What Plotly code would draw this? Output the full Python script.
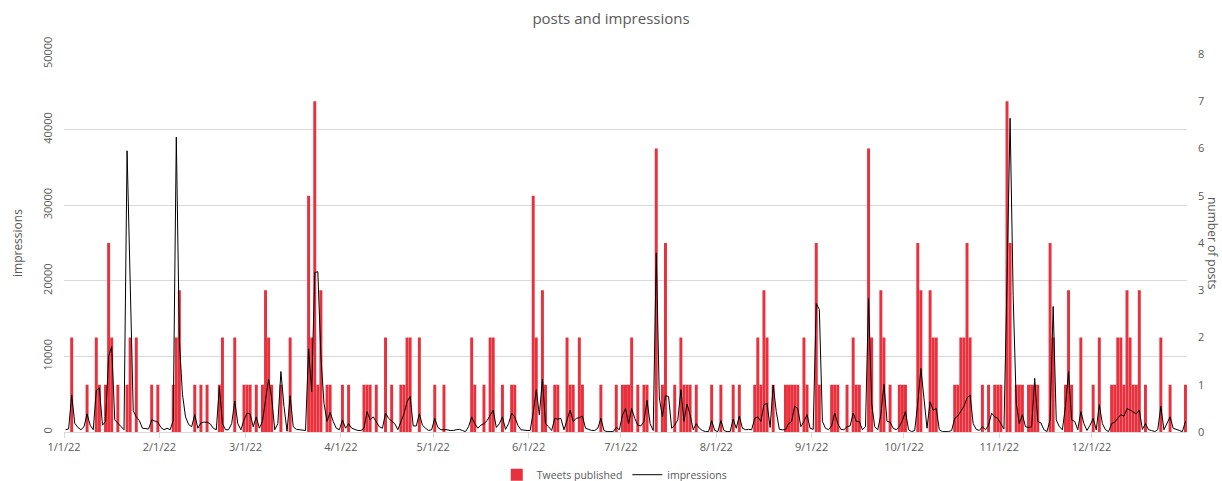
import pandas as pd
import plotly.graph_objects as go

# Daily tweets published in 2022, one list per month
posts_jan = [0,0,2,0,0,0,0,1,0,0, 2,1,0,1,4,2,0,1,0,0, 1,2,0,2,0,0,0,0,1,0, 1]
posts_feb = [0,0,0,0,1,2,3,0,0,0, 0,1,0,1,0,1,0,0,0,1, 2,0,0,0,2,0,0,1]
posts_mar = [1,1,0,1,0,1,3,2,1,0, 0,1,0,0,2,0,0,0,0,0, 5,2,7,1,3,0,1,1,0,0, 0]
posts_apr = [1,0,1,0,0,0,0,1,1,1, 0,1,0,0,2,0,1,0,0,1, 1,2,2,0,0,2,0,0,0,0]
posts_may = [1,0,0,1,0,0,0,0,0,0, 0,0,2,1,0,0,1,0,2,2, 0,0,1,0,0,1,1,0,0,0, 0]
posts_jun = [0,5,2,0,3,1,0,0,1,1, 0,0,2,1,1,0,2,1,0,0, 0,0,0,1,0,0,0,0,1,0]
posts_jul = [1,1,1,2,0,1,0,1,1,0, 0,6,0,1,4,0,0,1,0,2, 1,1,1,0,1,0,0,0,0,1, 0]
posts_aug = [0,1,0,0,0,1,0,1,0,0, 0,0,1,2,1,3,2,0,1,0, 0,0,1,1,1,1,1,0,2,1, 0]
posts_sep = [0,4,1,0,0,0,1,1,1,0, 0,1,0,2,1,1,0,0,6,2, 0,0,3,2,0,1,0,0,1,1]
posts_oct = [1,0,0,0,4,3,0,0,3,2, 2,0,0,0,0,0,1,1,2,2, 4,2,0,0,0,1,0,1,0,1, 1]
posts_nov = [1,0,7,4,0,1,1,1,0,1, 1,1,1,0,0,0,4,2,0,0, 0,1,3,1,0,0,2,0,0,0]
posts_dec = [1,0,2,0,0,0,1,1,2,2, 1,3,2,1,1,3,0,1,0,0, 0,0,2,0,0,1,0,0,0,0, 1]

# Daily impressions in 2022, one list per month
impr_jan = [300,400,4900,1150,600,300,700,2400,900,300, 5500,5800,900,1400,10000,11300,1600,1200,700,300,
            37200,18000,2800,2000,1500,500,400,400,1600,1500, 1300]
impr_feb = [600,300,500,300,1500,39000,12000,5000,2000,1000, 700,2300,500,1200,1300,1300,1100,500,300,6000,
            1100,300,300,1100,4100,1100,300,1600]
impr_mar = [2500,2400,700,2000,500,1400,4200,7000,4500,300, 1100,8000,3400,100,4800,700,350,300,300,200,
            11000,5300,21100,21200,10000,3800,1400,2600,1400,500, 300]
impr_apr = [1600,500,1100,500,300,200,200,500,2700,1600, 2000,1400,700,500,2500,1800,1500,1100,300,1400,
            2400,4000,4700,800,800,2400,900,500,200,300]
impr_may = [1800,600,300,300,300,200,200,300,350,200, 50,700,2000,1100,500,900,1100,1500,2200,2900,
            600,1100,2000,350,1100,2500,2000,900,300,200, 200]
impr_jun = [200,2500,5600,2250,7000,1100,700,200,1800,1700, 1800,300,1600,2900,1400,1800,1900,2100,500,300,
            200,200,500,1800,200,50,50,50,600,300]
impr_jul = [2200,3100,1100,3100,1800,900,800,1400,4200,1100, 200,23700,4500,2000,4800,4700,500,900,1600,5600,
            1400,3700,2300,300,1100,500,200,50,50,1500, 200]
impr_aug = [50,1500,200,50,50,1700,500,2100,500,300, 350,300,1800,2000,1400,3600,3800,600,6200,2700,
            350,300,300,1100,1400,3400,3100,700,1400,2300, 500]
impr_sep = [350,17000,16200,1400,500,300,800,2500,1100,350, 300,700,800,2500,1400,1400,300,700,17700,3800,
            700,300,2300,6300,1400,1300,500,300,700,1500]
impr_oct = [2700,300,50,200,3800,8400,4500,500,4000,2900, 3100,300,50,50,50,200,1800,2100,2700,3400,
            4500,4900,1100,350,200,700,300,900,2500,2000, 1800]
impr_nov = [1100,400,20000,41500,18000,3800,1100,2300,700,600, 700,7100,1400,1200,300,50,1600,16600,1600,700,
            300,3400,8000,1600,1400,300,2700,1100,200,900]
impr_dec = [1800,300,3600,1100,300,50,1100,1300,1800,2300, 2100,3100,2900,2700,2400,2900,350,1100,300,200,
            50,300,3400,300,1100,2000,500,300,200,50, 1400]

posts = (posts_jan + posts_feb + posts_mar + posts_apr + posts_may + posts_jun +
         posts_jul + posts_aug + posts_sep + posts_oct + posts_nov + posts_dec)
impressions = (impr_jan + impr_feb + impr_mar + impr_apr + impr_may + impr_jun +
               impr_jul + impr_aug + impr_sep + impr_oct + impr_nov + impr_dec)

days = pd.date_range("2022-01-01", "2022-12-31", freq="D")
month_starts = pd.date_range("2022-01-01", "2022-12-01", freq="MS")
month_labels = [f"{d.month}/{d.day}/{d.strftime('%y')}" for d in month_starts]

GREY = "#595959"
GRID = "#D9D9D9"
RED = "#E9313D"
FONT = "Open Sans"
DAY_MS = 86400000

fig = go.Figure()

# Posts per day as bars on the right-hand axis
fig.add_trace(go.Bar(
    x=days, y=posts, name="Tweets published",
    xperiod=DAY_MS, xperiodalignment="middle",
    marker=dict(color=RED, line=dict(width=0)),
    yaxis="y",
))

# Impressions as a thin line on the left-hand axis
fig.add_trace(go.Scatter(
    x=days, y=impressions, name="impressions", mode="lines",
    xperiod=DAY_MS, xperiodalignment="middle",
    line=dict(color="black", width=1),
    yaxis="y2",
))

fig.update_layout(
    width=1222, height=481,
    margin=dict(l=64, r=35, t=54, b=49, autoexpand=False),
    paper_bgcolor="white", plot_bgcolor="white",
    font=dict(family=FONT, color=GREY, size=11),
    bargap=0.04,
    title=dict(text="posts and impressions", x=0.5, xref="container", xanchor="center",
               y=0.962, yref="container", yanchor="middle",
               font=dict(family=FONT, size=15, color=GREY)),
    xaxis=dict(
        type="date", range=["2022-01-01", "2023-01-01"],
        tickvals=month_starts, ticktext=month_labels,
        showgrid=False, showline=True, linecolor=GRID, linewidth=1,
        ticks="outside", ticklen=5, tickcolor=GRID,
        tickfont=dict(size=11, color=GREY),
    ),
    yaxis=dict(
        side="right", range=[0, 8], dtick=1, showgrid=False, zeroline=False,
        tickfont=dict(size=11, color=GREY), ticks="", ticklabelstandoff=10,
    ),
    yaxis2=dict(
        overlaying="y", side="left", range=[0, 50000], dtick=10000, tickformat="d",
        showgrid=True, gridcolor=GRID, gridwidth=1, zeroline=False,
        tickangle=-90, tickfont=dict(size=11, color=GREY), ticks="",
        ticklabelstandoff=9,
    ),
    legend=dict(orientation="h", x=0.49, xanchor="center", y=-0.113, yanchor="middle",
                font=dict(size=10.5, color=GREY), traceorder="normal"),
    annotations=[
        dict(text="impressions", xref="paper", yref="paper", x=0, y=0.5,
             xanchor="center", yanchor="middle", xshift=-47, textangle=-90,
             showarrow=False, font=dict(family=FONT, size=12, color=GREY)),
        dict(text="number of posts", xref="paper", yref="paper", x=1, y=0.5,
             xanchor="center", yanchor="middle", xshift=26, textangle=90,
             showarrow=False, font=dict(family=FONT, size=12, color=GREY)),
    ],
)

fig.write_html("out.html")
